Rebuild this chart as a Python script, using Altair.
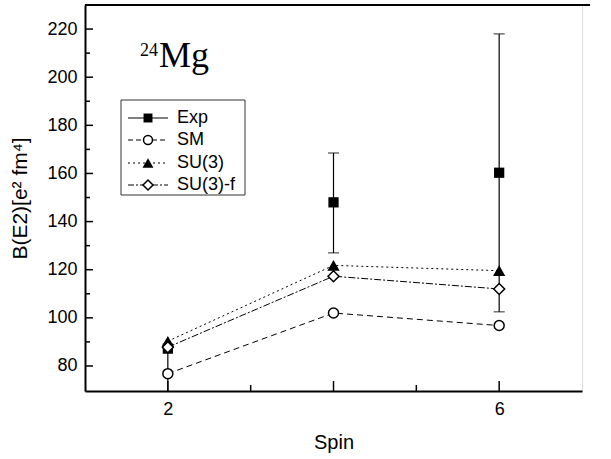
import altair as alt
import pandas as pd

# ---- data ----
spins = [2, 4, 6]
exp_vals = [87.2, 148.0, 160.3]
exp_low = [60.0, 127.0, 102.5]
exp_high = [88.0, 168.5, 218.0]
sm_vals = [76.8, 102.0, 96.8]
su3_vals = [90.3, 121.8, 119.6]
su3f_vals = [87.8, 117.3, 112.0]
series_names = ["Exp", "SM", "SU(3)", "SU(3)-f"]

y_major = [80, 100, 120, 140, 160, 180, 200, 220]
y_minor = [90, 110, 130, 150, 170, 190, 210]
x_major = [2, 4, 6]
x_minor = [3, 5]
x_labels = [2, 6]

W, H = 497, 386
FONT = "Liberation Sans"

xs = alt.Scale(domain=[1, 7], nice=False, zero=False)
ys = alt.Scale(domain=[69.6, 230], nice=False, zero=False)

x_axis = alt.Axis(values=x_labels, title="Spin", tickSize=0, labelPadding=9,
                  labelFontSize=18, titleFontSize=20, titleFontWeight="normal",
                  titlePadding=14, domainWidth=2, domainColor="black",
                  labelColor="black", titleColor="black", grid=False, format="d")
y_axis = alt.Axis(values=y_major, title="B(E2)[e² fm⁴]", tickSize=0, labelPadding=8,
                  labelFontSize=18, titleFontSize=21, titleFontWeight="normal",
                  titlePadding=16, domainWidth=2, domainColor="black",
                  labelColor="black", titleColor="black", grid=False)

df = pd.DataFrame({"spin": spins, "exp": exp_vals, "lo": exp_low, "hi": exp_high,
                   "sm": sm_vals, "su3": su3_vals, "su3f": su3f_vals})

X = alt.X("spin:Q", scale=xs, axis=x_axis)


def Y(field):
    return alt.Y(f"{field}:Q", scale=ys, axis=y_axis)


base = alt.Chart(df)

# error bars
err = base.mark_rule(color="black", strokeWidth=1.2, clip=True).encode(
    x=X, y=Y("lo"), y2="hi:Q")
cap_hi = base.mark_tick(color="black", orient="horizontal", size=11, thickness=1.2,
                        clip=True).encode(x=X, y=Y("hi"))
cap_lo = base.mark_tick(color="black", orient="horizontal", size=11, thickness=1.2,
                        clip=True).encode(x=X, y=Y("lo"))

dashes = {"sm": [6, 4], "su3": [2, 3], "su3f": [7, 2, 2, 2]}
lines = [base.mark_line(color="black", strokeWidth=1, strokeDash=d).encode(x=X, y=Y(f))
         for f, d in dashes.items()]

m_exp = base.mark_point(shape="square", filled=True, color="black", size=105,
                        opacity=1).encode(x=X, y=Y("exp"))
m_sm = base.mark_point(shape="circle", filled=True, fill="white", stroke="black",
                       strokeWidth=1.5, size=100, opacity=1).encode(x=X, y=Y("sm"))
m_su3 = base.mark_point(shape="triangle-up", filled=True, color="black", size=150,
                        opacity=1).encode(x=X, y=Y("su3"))
m_su3f = base.mark_point(shape="diamond", filled=True, fill="white", stroke="black",
                         strokeWidth=1.5, size=120, opacity=1).encode(x=X, y=Y("su3f"))

# inward ticks
ymaj = alt.Chart(pd.DataFrame({"v": y_major})).mark_rule(color="black", strokeWidth=1.5).encode(
    y=alt.Y("v:Q", scale=ys, axis=y_axis), x=alt.value(0), x2=alt.value(8))
ymin = alt.Chart(pd.DataFrame({"v": y_minor})).mark_rule(color="black", strokeWidth=1.5).encode(
    y=alt.Y("v:Q", scale=ys, axis=y_axis), x=alt.value(0), x2=alt.value(5))
xmaj = alt.Chart(pd.DataFrame({"v": x_major})).mark_rule(color="black", strokeWidth=1.5).encode(
    x=alt.X("v:Q", scale=xs, axis=x_axis), y=alt.value(H), y2=alt.value(H - 10))
xmin = alt.Chart(pd.DataFrame({"v": x_minor})).mark_rule(color="black", strokeWidth=1.5).encode(
    x=alt.X("v:Q", scale=xs, axis=x_axis), y=alt.value(H), y2=alt.value(H - 6))

top = alt.Chart(pd.DataFrame({"a": [0]})).mark_rule(color="black", strokeWidth=2).encode(
    x=alt.value(0), x2=alt.value(W + 8), y=alt.value(0))

# nucleus label
mg = alt.Chart(pd.DataFrame({"t": ["Mg"]})).mark_text(
    font="Liberation Serif", fontSize=36, align="left", baseline="alphabetic",
    color="black").encode(text="t:N", x=alt.value(74), y=alt.value(62))
a24 = alt.Chart(pd.DataFrame({"t": ["24"]})).mark_text(
    font="Liberation Serif", fontSize=18, align="left", baseline="alphabetic",
    color="black").encode(text="t:N", x=alt.value(55), y=alt.value(51))

# legend
LX0, LX1, LY0, LY1 = 36, 160, 95, 190
box = alt.Chart(pd.DataFrame({"a": [0]})).mark_rect(
    fill="white", stroke="#333333", strokeWidth=1).encode(
    x=alt.value(LX0), x2=alt.value(LX1), y=alt.value(LY0), y2=alt.value(LY1))
leg_y = [113, 135, 158, 180]
leg_dash = [[1, 0], [5, 3], [2, 3], [6, 2, 2, 2]]
leg_layers = []
for i, name in enumerate(series_names):
    ld = pd.DataFrame({"name": [name]})
    leg_layers.append(alt.Chart(ld).mark_rule(color="black", strokeWidth=1,
                                              strokeDash=leg_dash[i]).encode(
        x=alt.value(43), x2=alt.value(83), y=alt.value(leg_y[i])))
LM = 63
leg_pts = [
    alt.Chart(pd.DataFrame({"n": [series_names[0]]})).mark_point(
        shape="square", filled=True, color="black", size=80, opacity=1).encode(
        x=alt.value(LM), y=alt.value(leg_y[0])),
    alt.Chart(pd.DataFrame({"n": [series_names[1]]})).mark_point(
        shape="circle", filled=True, fill="white", stroke="black", strokeWidth=1.5,
        size=80, opacity=1).encode(x=alt.value(LM), y=alt.value(leg_y[1])),
    alt.Chart(pd.DataFrame({"n": [series_names[2]]})).mark_point(
        shape="triangle-up", filled=True, color="black", size=120, opacity=1).encode(
        x=alt.value(LM), y=alt.value(leg_y[2])),
    alt.Chart(pd.DataFrame({"n": [series_names[3]]})).mark_point(
        shape="diamond", filled=True, fill="white", stroke="black", strokeWidth=1.5,
        size=100, opacity=1).encode(x=alt.value(LM), y=alt.value(leg_y[3])),
]
leg_text = alt.Chart(pd.DataFrame({"name": series_names, "ly": leg_y})).mark_text(
    font=FONT, fontSize=18, align="left", baseline="middle", color="black").encode(
    text="name:N", x=alt.value(92), y=alt.Y("ly:Q", scale=None))

chart = alt.layer(
    err, cap_hi, cap_lo, *lines, m_exp, m_sm, m_su3, m_su3f,
    ymaj, ymin, xmaj, xmin, top, mg, a24, box, *leg_layers, *leg_pts, leg_text
).properties(
    width=W, height=H,
    autosize=alt.AutoSizeParams(type="none"),
    padding={"left": 85, "top": 5, "right": 29, "bottom": 68},
).configure_view(stroke=None).configure(font=FONT, background="white")

chart.save("out.html", embed_options={"renderer": "svg", "actions": False})
